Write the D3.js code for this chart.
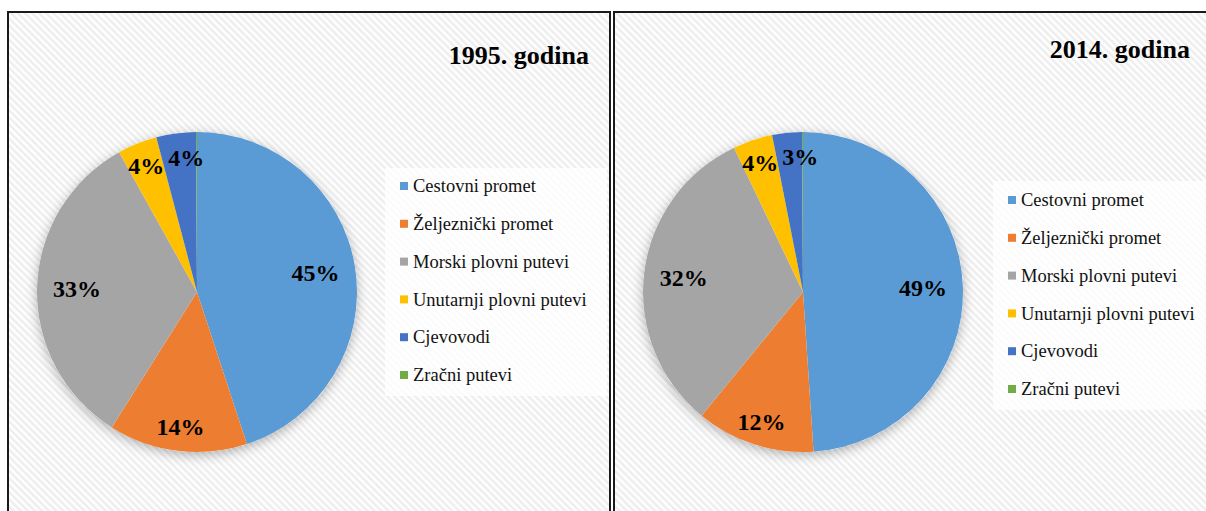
<!DOCTYPE html>
<html>
<head>
<meta charset="utf-8">
<script src="https://cdn.jsdelivr.net/npm/d3@7"></script>
<style>
  html, body { margin: 0; padding: 0; background: #ffffff; }
  svg { display: block; }
</style>
</head>
<body>
<svg id="chart" width="1206" height="511"></svg>
<script>
// ---- data ----
const categories = ["Cestovni promet", "Željeznički promet", "Morski plovni putevi", "Unutarnji plovni putevi", "Cjevovodi", "Zračni putevi"];
const colors = ["#5B9BD5", "#ED7D31", "#A5A5A5", "#FFC000", "#4472C4", "#70AD47"];
const titles = ["1995. godina", "2014. godina"];
const values1995 = [45, 14, 33, 4, 4, 0.1];
const values2014 = [49, 12, 32, 4, 3, 0.1];
const labels1995 = ["45%", "14%", "33%", "4%", "4%", ""];
const labels2014 = ["49%", "12%", "32%", "4%", "3%", ""];

const svg = d3.select("#chart");
const defs = svg.append("defs");

// diagonal stripes background
const pat = defs.append("pattern")
  .attr("id", "stripes").attr("patternUnits", "userSpaceOnUse")
  .attr("width", 5).attr("height", 5)
  .attr("patternTransform", "rotate(-45)");
pat.append("rect").attr("width", 5).attr("height", 5).attr("fill", "#ffffff");
pat.append("rect").attr("width", 2.5).attr("height", 5).attr("fill", "#eeeeee");

const flt = defs.append("filter").attr("id", "shadow")
  .attr("x", "-30%").attr("y", "-30%").attr("width", "160%").attr("height", "160%");
flt.append("feDropShadow").attr("dx", 0).attr("dy", 3).attr("stdDeviation", 6)
  .attr("flood-color", "#000").attr("flood-opacity", 0.3);

const panels = [
  { x: 8, values: values1995, labels: labels1995, title: titles[0], titleX: 581, titleY: 52,
    legendX: 377, legendY: 156, legendW: 222, legendH: 228, legendRow0: 18, legendStep: 37.8 },
  { x: 614, values: values2014, labels: labels2014, title: titles[1], titleX: 576, titleY: 46,
    legendX: 379, legendY: 169, legendW: 230, legendH: 229, legendRow0: 19, legendStep: 37.8 }
];

const radius = 160;
const pie = d3.pie().sort(null).value(d => d);
const arc = d3.arc().innerRadius(0).outerRadius(radius);
const font = "'Liberation Serif', 'Times New Roman', serif";

panels.forEach(p => {
  const g = svg.append("g").attr("transform", `translate(${p.x},12)`);
  g.append("rect").attr("x", 0).attr("y", 0).attr("width", 602).attr("height", 520)
    .attr("fill", "url(#stripes)").attr("stroke", "#1a1a1a").attr("stroke-width", 2);

  g.append("text").attr("x", p.titleX).attr("y", p.titleY)
    .attr("text-anchor", "end")
    .attr("font-family", font)
    .attr("font-weight", "bold").attr("font-size", 26).attr("fill", "#000")
    .text(p.title);

  const pg = g.append("g").attr("transform", `translate(189,280)`);
  pg.append("circle").attr("r", radius).attr("fill", "#ffffff").attr("filter", "url(#shadow)");
  const arcs = pie(p.values);
  pg.selectAll("path.slice").data(arcs).enter().append("path")
    .attr("class", "slice")
    .attr("d", arc)
    .attr("fill", (d, i) => colors[i]);

  // label positions from arc centroids, with simple collision avoidance
  const pos = arcs.map(d => {
    const v = d.data;
    const f = v >= 20 ? 0.75 : 0.85;
    const a = d3.arc().innerRadius(radius * f).outerRadius(radius * f);
    return a.centroid(d);
  });
  const charW = 24 * 0.5;
  for (let i = 1; i < pos.length; i++) {
    if (!p.labels[i]) continue;
    const prev = i - 1;
    const w0 = (p.labels[prev].length + 1) * charW + 4, w1 = (p.labels[i].length + 1) * charW + 4;
    const overlapX = (w0 + w1) / 2 - (pos[i][0] - pos[prev][0]);
    const overlapY = 20 - Math.abs(pos[i][1] - pos[prev][1]);
    if (overlapX > 0 && overlapY > 0) pos[i][0] += overlapX;
  }

  pg.selectAll("text.lbl").data(arcs).enter().append("text")
    .attr("class", "lbl")
    .attr("transform", (d, i) => `translate(${pos[i][0]},${pos[i][1]})`)
    .attr("text-anchor", "middle").attr("dy", "0.35em")
    .attr("font-family", font)
    .attr("font-weight", "bold").attr("font-size", 24).attr("fill", "#000")
    .text((d, i) => p.labels[i]);

  const lg = g.append("g").attr("transform", `translate(${p.legendX},${p.legendY})`);
  lg.append("rect").attr("width", p.legendW).attr("height", p.legendH)
    .attr("fill", "#ffffff").attr("fill-opacity", 0.75);
  const items = lg.selectAll("g.item").data(categories).enter().append("g")
    .attr("class", "item")
    .attr("transform", (d, i) => `translate(15,${p.legendRow0 + i * p.legendStep})`);
  items.append("rect").attr("x", 0).attr("y", -4).attr("width", 8).attr("height", 8)
    .attr("fill", (d, i) => colors[i]);
  items.append("text").attr("x", 13).attr("y", 0).attr("dy", "0.33em")
    .attr("font-family", font)
    .attr("font-size", 18.5).attr("fill", "#111")
    .text(d => d);
});
</script>
</body>
</html>
